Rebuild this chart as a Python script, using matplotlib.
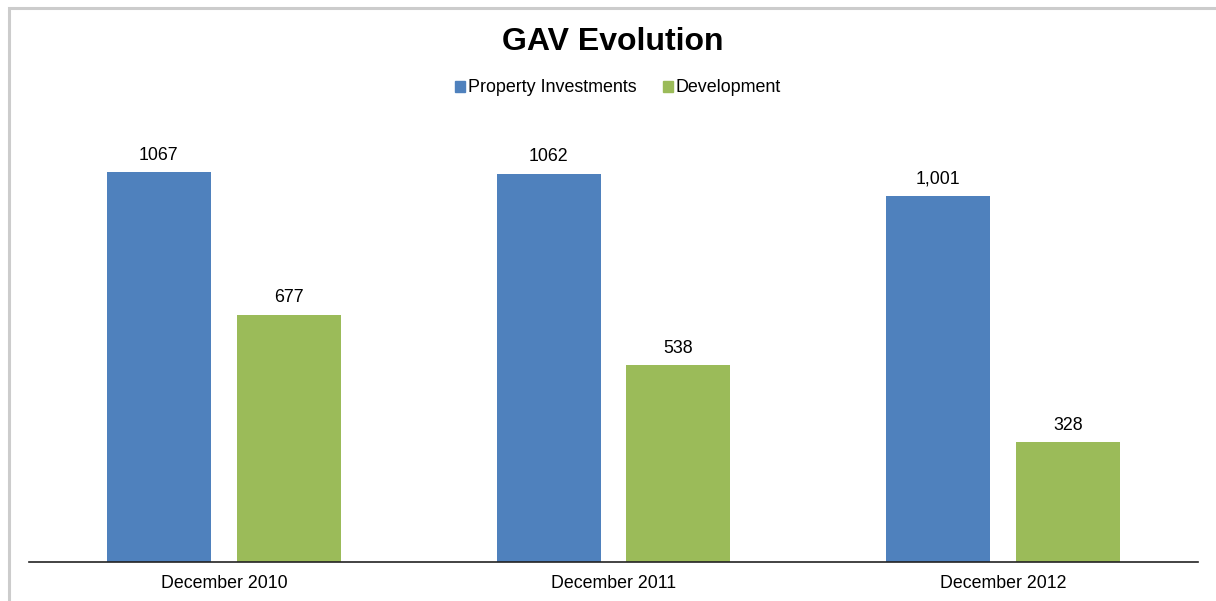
import numpy as np
import matplotlib.pyplot as plt
from matplotlib.patches import Rectangle, Patch

plt.rcParams['font.family'] = ['Liberation Sans', 'DejaVu Sans']

# data
categories = ['December 2010', 'December 2011', 'December 2012']
property_investments = [1067, 1062, 1001]
development = [677, 538, 328]
pi_labels = ['1067', '1062', '1,001']
dev_labels = ['677', '538', '328']

blue = '#4F81BD'
green = '#9BBB59'

W, H = 1216, 601
fig = plt.figure(figsize=(W / 100, H / 100), dpi=100)

# axes placed in pixel terms of the original
left, right, base = 29, 1198, 562
ymax = 1200
height_px = ymax * 390 / 1067
ax = fig.add_axes([left / W, (H - base) / H, (right - left) / W, height_px / H])

x = np.arange(len(categories))
bw = 0.267
off = 0.1667
b1 = ax.bar(x - off, property_investments, bw, color=blue)
b2 = ax.bar(x + off, development, bw, color=green)

for bars, labels in ((b1, pi_labels), (b2, dev_labels)):
    for rect, lab in zip(bars, labels):
        ax.annotate(lab, (rect.get_x() + rect.get_width() / 2, rect.get_height()),
                    xytext=(0, 6), textcoords='offset points',
                    ha='center', va='bottom', fontsize=12.8, color='black')

ax.set_xlim(-0.5, len(categories) - 0.5)
ax.set_ylim(0, ymax)
ax.set_xticks(x)
ax.set_xticklabels(categories, fontsize=12.8)
ax.tick_params(axis='x', length=0, pad=9)
ax.set_yticks([])
for s in ('top', 'right', 'left'):
    ax.spines[s].set_visible(False)
ax.spines['bottom'].set_color('#222222')
ax.spines['bottom'].set_linewidth(1.2)

fig.text(613 / W, 1 - 42 / H, 'GAV Evolution', ha='center', va='center',
         fontsize=23, fontweight='bold')

handles = [Patch(color=blue, label='Property Investments'),
           Patch(color=green, label='Development')]
fig.legend(handles=handles, loc='center', bbox_to_anchor=(618 / W, 1 - 88 / H),
           ncol=2, frameon=False, fontsize=12.9, handlelength=0.55, handleheight=0.55,
           handletextpad=0.15, columnspacing=1.5)

# outer frame, running off the right and bottom edges
fig.patches.append(Rectangle((8.5 / W, -0.05), 1.1, 1 - 8.5 / H + 0.05,
                             transform=fig.transFigure, fill=False,
                             edgecolor='#cccccc', linewidth=2.2))

fig.savefig('out.png', dpi=100)
